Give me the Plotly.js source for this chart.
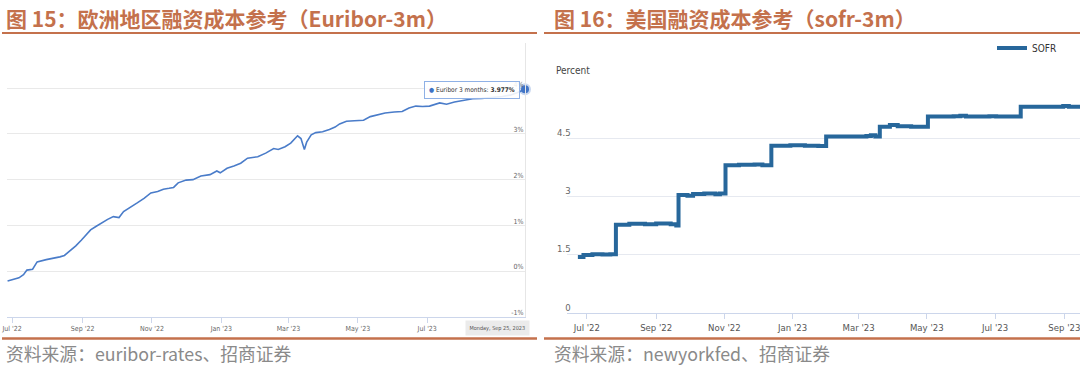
<!DOCTYPE html>
<html>
<head>
<meta charset="utf-8">
<script src="https://cdn.plot.ly/plotly-3.0.1.min.js"></script>
<style>
  html, body { margin: 0; padding: 0; background: #ffffff; }
  #chart { width: 1080px; height: 367px; }
</style>
</head>
<body>
<div id="chart"></div>
<script>
// ---------------- Data ----------------
const eurDates = ['2022-06-27','2022-07-01','2022-07-07','2022-07-11','2022-07-14','2022-07-19','2022-07-23','2022-07-31','2022-08-05','2022-08-12','2022-08-16','2022-08-21','2022-08-26','2022-08-31','2022-09-08','2022-09-13','2022-09-19','2022-09-23','2022-09-28','2022-10-03','2022-10-07','2022-10-13','2022-10-19','2022-10-25','2022-10-31','2022-11-06','2022-11-11','2022-11-16','2022-11-20','2022-11-24','2022-12-01','2022-12-07','2022-12-14','2022-12-22','2022-12-28','2022-12-31','2023-01-06','2023-01-12','2023-01-18','2023-01-24','2023-02-02','2023-02-09','2023-02-16','2023-02-20','2023-02-26','2023-03-03','2023-03-09','2023-03-12','2023-03-15','2023-03-17','2023-03-21','2023-03-25','2023-03-31','2023-04-06','2023-04-11','2023-04-15','2023-04-21','2023-04-28','2023-05-06','2023-05-12','2023-05-19','2023-05-25','2023-06-02','2023-06-09','2023-06-15','2023-06-21','2023-06-27','2023-07-03','2023-07-12','2023-07-18','2023-07-25','2023-08-02','2023-08-10','2023-08-18','2023-08-28','2023-09-05','2023-09-12','2023-09-18','2023-09-25'];
const eurVals = [-0.22,-0.19,-0.15,-0.08,0.02,0.04,0.20,0.25,0.27,0.31,0.34,0.44,0.55,0.68,0.90,0.98,1.08,1.13,1.19,1.17,1.30,1.39,1.49,1.59,1.71,1.74,1.79,1.81,1.83,1.93,1.99,2.00,2.08,2.11,2.19,2.15,2.25,2.30,2.36,2.47,2.50,2.58,2.68,2.66,2.72,2.80,2.96,2.90,2.66,2.82,2.98,3.03,3.05,3.10,3.15,3.22,3.28,3.29,3.30,3.38,3.42,3.46,3.48,3.49,3.57,3.61,3.60,3.61,3.68,3.65,3.70,3.74,3.77,3.78,3.80,3.82,3.85,3.90,3.977];

const sofrDates = ['2022-06-23','2022-06-28','2022-07-06','2022-07-15','2022-07-22','2022-07-27','2022-08-08','2022-08-22','2022-09-01','2022-09-14','2022-09-19','2022-09-21','2022-09-29','2022-10-04','2022-10-14','2022-10-24','2022-10-28','2022-11-02','2022-11-14','2022-11-28','2022-12-05','2022-12-13','2022-12-30','2023-01-12','2023-01-24','2023-01-31','2023-03-08','2023-03-12','2023-03-16','2023-03-20','2023-03-29','2023-04-05','2023-04-17','2023-05-02','2023-05-25','2023-05-31','2023-06-05','2023-06-26','2023-07-02','2023-07-24','2023-08-31','2023-09-05','2023-09-22'];
const sofrVals = [1.45,1.50,1.52,1.51,1.52,2.28,2.30,2.29,2.31,2.29,2.26,3.04,3.02,3.07,3.08,3.06,3.08,3.81,3.82,3.83,3.81,4.31,4.32,4.31,4.30,4.55,4.56,4.58,4.55,4.80,4.84,4.81,4.80,5.06,5.07,5.08,5.06,5.07,5.06,5.31,5.33,5.31,5.31];

const eurTickVals = ['2022-07-01','2022-09-01','2022-11-01','2023-01-01','2023-03-01','2023-05-01','2023-07-01'];
const eurTickText = ["Jul '22","Sep '22","Nov '22","Jan '23","Mar '23","May '23","Jul '23"];
const sofrTickVals = ['2022-07-01','2022-09-01','2022-11-01','2023-01-01','2023-03-01','2023-05-01','2023-07-01','2023-09-01'];
const sofrTickText = ["Jul '22","Sep '22","Nov '22","Jan '23","Mar '23","May '23","Jul '23","Sep '23"];
const eurYTicks = [-1,0,1,2,3,4,5];
const eurYText = ['-1%','0%','1%','2%','3%','4%',''];
const sofrYTicks = [0,1.5,3,4.5,6];
const sofrYText = ['0','1.5','3','4.5',''];

const titleLeft = '图 15：欧洲地区融资成本参考（Euribor-3m）';
const titleRight = '图 16：美国融资成本参考（sofr-3m）';
const sourceLeft = '资料来源：euribor-rates、招商证券';
const sourceRight = '资料来源：newyorkfed、招商证券';
const eurName = 'Euribor 3 months';
const sofrName = 'SOFR';

// ---------------- Helpers ----------------
const W = 1080, H = 367;
const px = x => x / W;
const py = y => 1 - y / H;
const ACC = '#c4714c';
const CJK = '"Noto Sans CJK SC", "Noto Sans", sans-serif';
const NARROW = '"DejaVu Sans Condensed", "Liberation Sans Narrow", "Roboto", sans-serif';

const lastIdx = eurVals.length - 1;
const lastDate = new Date(eurDates[lastIdx] + 'T00:00:00');
const dayNames = ['Sunday','Monday','Tuesday','Wednesday','Thursday','Friday','Saturday'];
const monNames = ['Jan','Feb','Mar','Apr','May','Jun','Jul','Aug','Sep','Oct','Nov','Dec'];
const dateLabel = dayNames[lastDate.getDay()] + ', ' + monNames[lastDate.getMonth()] + ' ' + lastDate.getDate() + ', ' + lastDate.getFullYear();

const traces = [
  {
    x: eurDates, y: eurVals, type: 'scatter', mode: 'lines',
    name: eurName, showlegend: false,
    line: { color: '#4a7cc9', width: 1.6 },
    xaxis: 'x', yaxis: 'y', hoverinfo: 'skip'
  },
  {
    x: [eurDates[lastIdx]], y: [eurVals[lastIdx]], type: 'scatter', mode: 'markers',
    showlegend: false, cliponaxis: false,
    marker: { color: '#3f73c4', size: 8, line: { color: 'rgba(74,124,201,0.3)', width: 4 } },
    xaxis: 'x', yaxis: 'y', hoverinfo: 'skip'
  },
  {
    x: sofrDates, y: sofrVals, type: 'scatter', mode: 'lines',
    name: sofrName, showlegend: true,
    line: { color: '#27679b', width: 4, shape: 'hv' },
    xaxis: 'x2', yaxis: 'y2', hoverinfo: 'skip'
  }
];

const layout = {
  width: W, height: H,
  margin: { l: 0, r: 0, t: 0, b: 0, pad: 0 },
  paper_bgcolor: '#ffffff', plot_bgcolor: '#ffffff',
  font: { family: NARROW, color: '#666666' },
  showlegend: true,
  legend: {
    x: px(992), y: py(48), xanchor: 'left', yanchor: 'middle',
    orientation: 'h', bgcolor: 'rgba(0,0,0,0)',
    font: { family: NARROW, size: 10, color: '#333333' }
  },
  xaxis: {
    domain: [px(7), px(525)], anchor: 'y',
    type: 'date', range: ['2022-06-26 12:00', '2023-09-25'],
    tickvals: eurTickVals, ticktext: eurTickText,
    showgrid: false, zeroline: false,
    showline: true, linecolor: '#ccd6eb', linewidth: 1,
    ticks: 'outside', ticklen: 5, tickcolor: '#ccd6eb',
    tickfont: { family: NARROW, size: 7, color: '#666666' }
  },
  yaxis: {
    domain: [py(316.7), py(42.6)], anchor: 'x',
    range: [-1, 5], side: 'right',
    tickvals: eurYTicks, ticktext: eurYText,
    ticklabelposition: 'inside', ticklabelshift: -4, ticklabeloverflow: 'allow',
    showgrid: true, gridcolor: '#e9e9e9', gridwidth: 1,
    zeroline: false, showline: true, linecolor: '#e6e6e6',
    ticks: '', tickfont: { family: NARROW, size: 7, color: '#666666' }
  },
  xaxis2: {
    domain: [px(566.7), 1], anchor: 'y2',
    type: 'date', range: ['2022-06-13', '2023-09-15'],
    tickvals: sofrTickVals, ticktext: sofrTickText, ticklabeloverflow: 'allow',
    showgrid: false, zeroline: false,
    showline: true, linecolor: '#ccd6eb', linewidth: 1,
    ticks: 'outside', ticklen: 5, tickcolor: '#ccd6eb',
    tickfont: { family: NARROW, size: 9.5, color: '#555555' }
  },
  yaxis2: {
    domain: [py(313.3), py(80)], anchor: 'x2',
    range: [0, 6],
    tickvals: sofrYTicks, ticktext: sofrYText,
    ticklabelposition: 'outside', ticklabelstandoff: -5, ticklabelshift: -6,
    showgrid: true, gridcolor: '#e6e9f0', gridwidth: 1,
    zeroline: false, showline: false, ticks: '',
    tickfont: { family: NARROW, size: 9.5, color: '#666666' }
  },
  shapes: [
    { type: 'line', xref: 'paper', yref: 'paper', x0: px(2), x1: px(537), y0: py(33), y1: py(33), line: { color: ACC, width: 2 } },
    { type: 'line', xref: 'paper', yref: 'paper', x0: px(544), x1: px(1080), y0: py(33), y1: py(33), line: { color: ACC, width: 2 } },
    { type: 'line', xref: 'paper', yref: 'paper', x0: px(2), x1: px(537), y0: py(338.5), y1: py(338.5), line: { color: ACC, width: 2.5 } },
    { type: 'line', xref: 'paper', yref: 'paper', x0: px(544), x1: px(1080), y0: py(338.5), y1: py(338.5), line: { color: ACC, width: 2.5 } }
  ],
  annotations: [
    { text: '<b>' + titleLeft + '</b>', xref: 'paper', yref: 'paper', x: px(4), y: py(18), xanchor: 'left', yanchor: 'middle', showarrow: false, font: { family: CJK, size: 21, color: ACC } },
    { text: '<b>' + titleRight + '</b>', xref: 'paper', yref: 'paper', x: px(552), y: py(18), xanchor: 'left', yanchor: 'middle', showarrow: false, font: { family: CJK, size: 21, color: ACC } },
    { text: sourceLeft, xref: 'paper', yref: 'paper', x: px(4), y: py(353), xanchor: 'left', yanchor: 'middle', showarrow: false, font: { family: CJK, size: 17.8, color: '#8a8a8a' } },
    { text: sourceRight, xref: 'paper', yref: 'paper', x: px(552), y: py(353), xanchor: 'left', yanchor: 'middle', showarrow: false, font: { family: CJK, size: 17.8, color: '#8a8a8a' } },
    { text: 'Percent', xref: 'paper', yref: 'paper', x: px(554), y: py(70), xanchor: 'left', yanchor: 'middle', showarrow: false, font: { family: NARROW, size: 10, color: '#444444' } },
    { text: '<span style="color:#3f73c4">●</span> ' + eurName + ': <b>' + eurVals[lastIdx].toFixed(3) + '%</b>', xref: 'paper', yref: 'paper', x: px(472), y: py(89.5), xanchor: 'center', yanchor: 'middle', showarrow: false, bgcolor: 'rgba(255,255,255,0.88)', bordercolor: '#8fb1e6', borderwidth: 1, borderpad: 4, font: { family: NARROW, size: 6.5, color: '#333333' } },
    { text: dateLabel, xref: 'paper', yref: 'paper', x: px(497), y: py(328), xanchor: 'center', yanchor: 'middle', showarrow: false, bgcolor: '#ebebeb', borderpad: 3.5, font: { family: NARROW, size: 5.5, color: '#555555' } }
  ]
};

Plotly.newPlot('chart', traces, layout, { staticPlot: true, displayModeBar: false });
</script>
</body>
</html>
